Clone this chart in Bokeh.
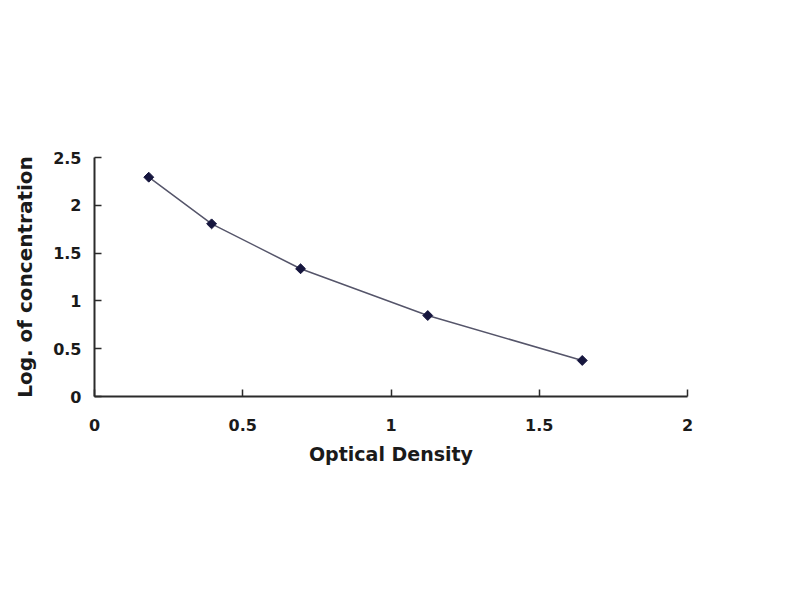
from bokeh.plotting import figure
from bokeh.models import Range1d, FixedTicker
from bokeh.embed import file_html
from bokeh.resources import INLINE

# standard curve
od_values = [0.183, 0.395, 0.695, 1.124, 1.645]
log_conc = [2.294, 1.806, 1.336, 0.847, 0.377]

x_ticks = [0, 0.5, 1, 1.5, 2]
x_tick_labels = ["0", "0.5", "1", "1.5", "2"]
y_ticks = [0, 0.5, 1, 1.5, 2, 2.5]
y_tick_labels = ["0", "0.5", "1", "1.5", "2", "2.5"]

FONT = "DejaVu Sans"

p = figure(width=784, height=584, output_backend="svg", toolbar_location=None,
           x_range=Range1d(0, 2), y_range=Range1d(0, 2.5),
           x_axis_label="Optical Density", y_axis_label="Log. of concentration",
           min_border_left=94, min_border_right=97,
           min_border_top=157, min_border_bottom=188)
p.outline_line_color = None
p.grid.visible = False
p.background_fill_color = "white"
p.border_fill_color = "white"

p.line(od_values, log_conc, line_color="#55556a", line_width=1.5)
p.scatter(od_values, log_conc, marker="square", size=7, angle=0.785,
          fill_color="#16163e", line_color="#16163e")

for ax, ticks, labels in ((p.xaxis[0], x_ticks, x_tick_labels),
                          (p.yaxis[0], y_ticks, y_tick_labels)):
    ax.ticker = FixedTicker(ticks=ticks)
    ax.major_label_overrides = {t: l for t, l in zip(ticks, labels)}
    ax.minor_tick_line_color = None
    ax.major_tick_in = 7
    ax.major_tick_out = 0
    ax.axis_line_color = "#2b2b2b"
    ax.axis_line_width = 2
    ax.major_tick_line_color = "#2b2b2b"
    ax.major_tick_line_width = 1.5
    ax.major_label_text_font = FONT
    ax.major_label_text_font_style = "bold"
    ax.major_label_text_font_size = "16px"
    ax.major_label_text_color = "#1a1a1a"
    ax.axis_label_text_font = FONT
    ax.axis_label_text_font_style = "bold"
    ax.axis_label_text_color = "#1a1a1a"

p.xaxis.major_label_standoff = 22
p.xaxis.axis_label_standoff = 9
p.xaxis.axis_label_text_font_size = "19px"
p.yaxis.major_label_standoff = 13
p.yaxis.axis_label_standoff = 13
p.yaxis.axis_label_text_font_size = "20px"

open("out.html", "w").write(file_html(p, INLINE))
